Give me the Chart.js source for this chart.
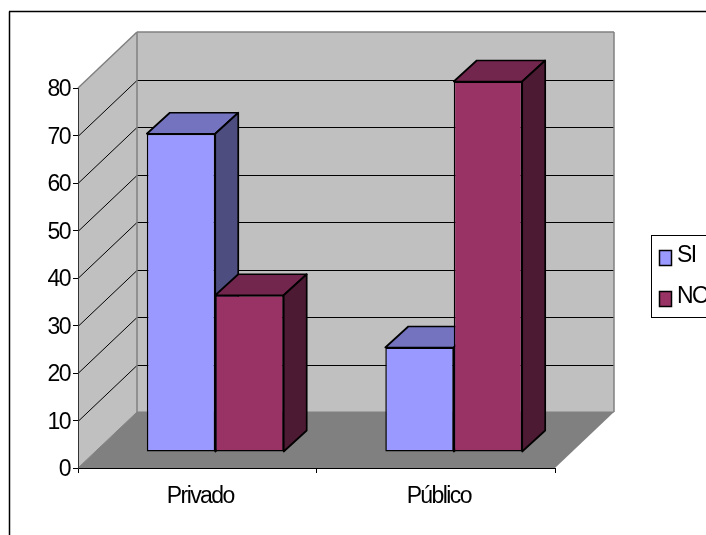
<!DOCTYPE html>
<html>
<head>
<meta charset="utf-8">
<title>Privado / Público</title>
<script src="https://cdn.jsdelivr.net/npm/chart.js@4"></script>
<style>
  html, body { margin: 0; padding: 0; background: #fff; overflow: hidden; }
  canvas { display: block; }
</style>
</head>
<body>
<canvas id="chart" width="706" height="535"></canvas>
<script>
// ================= DATA =================
const categories = ["Privado", "Público"];
const siValues = [67, 22];
const noValues = [33, 78];
const seriesNames = ["SI", "NO"];

// ================= LOOK =================
const FONT = '"Liberation Sans", Arial, sans-serif';
const WALL = "#c0c0c0";
const WALL_EDGE = "#808080";
const FLOOR = "#808080";
const siColors = { front: "#9999ff", top: "#7373bf", side: "#4d4d80" };
const noColors = { front: "#993366", top: "#73264d", side: "#4d1a33" };
const seriesColors = [siColors, noColors];

// depth of the room, of the bars, and where the bars stand on the floor
const ROOM_DX = 59, ROOM_DY = -56;
const BAR_DX = 23, BAR_DY = -21;
const SHIFT_DX = 18, SHIFT_DY = -16;

function poly(ctx, pts, fill, stroke, width) {
    ctx.beginPath();
    pts.forEach((p, i) => i ? ctx.lineTo(p[0], p[1]) : ctx.moveTo(p[0], p[1]));
    ctx.closePath();
    if (fill) { ctx.fillStyle = fill; ctx.fill(); }
    if (stroke) { ctx.strokeStyle = stroke; ctx.lineWidth = width; ctx.stroke(); }
}

function line(ctx, x1, y1, x2, y2, color, width) {
    ctx.beginPath();
    ctx.moveTo(x1, y1);
    ctx.lineTo(x2, y2);
    ctx.strokeStyle = color;
    ctx.lineWidth = width;
    ctx.stroke();
}

// top and side faces of every bar in a series
function drawBarDepth(ctx, meta, colors) {
    ctx.save();
    ctx.lineJoin = "round";
    meta.data.forEach(bar => {
        const x1 = bar.x - bar.width / 2, x2 = bar.x + bar.width / 2;
        const top = bar.y, base = bar.base;
        poly(ctx, [[x1, top], [x2, top], [x2 + BAR_DX, top + BAR_DY], [x1 + BAR_DX, top + BAR_DY]],
            colors.top, "#000", 1.7);
        poly(ctx, [[x2, top], [x2 + BAR_DX, top + BAR_DY], [x2 + BAR_DX, base + BAR_DY], [x2, base]],
            colors.side, "#000", 1.7);
    });
    ctx.restore();
}

// ================= ROOM: WALLS, FLOOR, GRIDLINES =================
const roomPlugin = {
    id: "room",
    beforeDraw(chart) {
        const { ctx, chartArea: a, scales } = chart;
        ctx.save();
        ctx.letterSpacing = "0px";

        // outer frame, open on the right and bottom
        line(ctx, 9.5, 535, 9.5, 11.5, "#000", 1.5);
        line(ctx, 9, 11.5, 706, 11.5, "#000", 1.5);

        const l = a.left, r = a.right, t = a.top, b = a.bottom;
        const dx = ROOM_DX, dy = ROOM_DY;

        poly(ctx, [[l + dx, t + dy], [r + dx, t + dy], [r + dx, b + dy], [l + dx, b + dy]], WALL);
        poly(ctx, [[l, b], [l, t], [l + dx, t + dy], [l + dx, b + dy]], WALL);
        poly(ctx, [[l, b], [l + dx, b + dy], [r + dx, b + dy], [r, b]], FLOOR);

        // value gridlines run along the side wall and across the back wall
        scales.y.ticks.forEach(tick => {
            if (tick.value === 0 || tick.value === 80) return;
            const y = Math.round(scales.y.getPixelForValue(tick.value)) + 0.5;
            line(ctx, l, y, l + dx, y + dy, "#000", 1);
            line(ctx, l + dx, y + dy, r + dx, y + dy, "#000", 1);
        });

        // room edges
        line(ctx, l, t, l + dx, t + dy, WALL_EDGE, 1.5);
        line(ctx, l + dx, t + dy, r + dx, t + dy, WALL_EDGE, 1.5);
        line(ctx, r + dx, t + dy, r + dx, b + dy, WALL_EDGE, 1.5);
        line(ctx, l + dx, t + dy, l + dx, b + dy, WALL_EDGE, 1.5);
        line(ctx, l, b, l + dx, b + dy, WALL_EDGE, 1);
        line(ctx, l + dx, b + dy, r + dx, b + dy, WALL_EDGE, 1);
        ctx.restore();

        ctx.letterSpacing = "-1.6px";
    },
    // series paint left to right here, so NO overlaps the side of SI
    beforeDatasetsDraw(chart) {
        const ctx = chart.ctx;
        ctx.save();
        ctx.translate(SHIFT_DX, SHIFT_DY);
        chart.getSortedVisibleDatasetMetas().forEach(meta => {
            drawBarDepth(ctx, meta, seriesColors[meta.index]);
            meta.controller.draw();
        });
        ctx.restore();
        return false;
    },
    // legend box, cut off by the right edge of the page
    afterDraw(chart) {
        const ctx = chart.ctx;
        ctx.save();
        ctx.fillStyle = "#fff";
        ctx.fillRect(651.5, 235.5, 60, 82);
        ctx.strokeStyle = "#000";
        ctx.lineWidth = 1;
        ctx.strokeRect(651.5, 235.5, 60, 82);
        seriesNames.forEach((name, i) => {
            const y = 250.5 + i * 41;
            ctx.fillStyle = seriesColors[i].front;
            ctx.fillRect(659.5, y, 12, 15);
            ctx.lineWidth = 1.5;
            ctx.strokeRect(659.5, y, 12, 15);
            ctx.fillStyle = "#000";
            ctx.font = "23px " + FONT;
            ctx.textAlign = "left";
            ctx.textBaseline = "middle";
            ctx.letterSpacing = "-1.6px";
            ctx.fillText(name, 677, y + 5);
        });
        ctx.restore();
    }
};

// ================= CHART =================
new Chart(document.getElementById("chart"), {
    type: "bar",
    data: {
        labels: categories,
        datasets: [
            {
                label: seriesNames[0],
                data: siValues,
                backgroundColor: siColors.front
            },
            {
                label: seriesNames[1],
                data: noValues,
                backgroundColor: noColors.front
            }
        ]
    },
    options: {
        responsive: false,
        animation: false,
        clip: false,
        categoryPercentage: 0.574,
        barPercentage: 1,
        borderColor: "#000",
        borderWidth: 1.5,
        borderSkipped: false,
        layout: { padding: { left: 8, right: 151, top: 88, bottom: 27 } },
        plugins: {
            legend: { display: false },
            tooltip: { enabled: false }
        },
        scales: {
            x: {
                afterFit: s => { s.height = 40; },
                grid: { drawOnChartArea: false, color: "#000", tickLength: 5 },
                border: { color: "#000", width: 1 },
                ticks: { color: "#000", font: { family: FONT, size: 23 }, padding: 10, labelOffset: 3 }
            },
            y: {
                min: 0,
                max: 80,
                afterFit: s => { s.width = 70; },
                grid: { drawOnChartArea: false, color: "#000", tickLength: 5 },
                border: { color: "#333", width: 1 },
                ticks: { stepSize: 10, color: "#000", font: { family: FONT, size: 23 }, padding: 3, labelOffset: 2 }
            }
        }
    },
    plugins: [roomPlugin]
});
</script>
</body>
</html>
